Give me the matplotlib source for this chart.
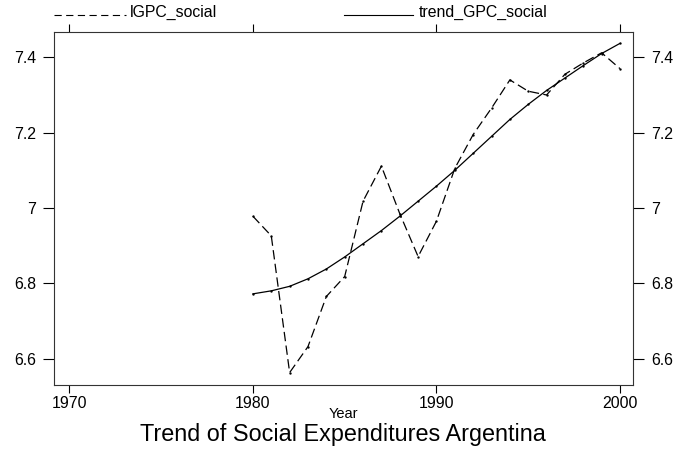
import matplotlib
matplotlib.use("Agg")
import matplotlib.pyplot as plt
from matplotlib.ticker import FixedLocator
from matplotlib.lines import Line2D

plt.rcParams['font.family'] = ['Liberation Sans', 'DejaVu Sans']

years = list(range(1980, 2001))
lgpc_social = [6.978, 6.926, 6.563, 6.632, 6.765, 6.818, 7.018, 7.111, 6.985, 6.871,
               6.965, 7.105, 7.195, 7.265, 7.340, 7.310, 7.300, 7.355, 7.385, 7.412, 7.370]
trend_gpc_social = [6.772, 6.780, 6.792, 6.812, 6.838, 6.870, 6.905, 6.940, 6.978, 7.018,
                    7.058, 7.100, 7.145, 7.190, 7.235, 7.275, 7.312, 7.345, 7.378, 7.410, 7.437]
x_ticks = [1970, 1980, 1990, 2000]
y_ticks = [6.6, 6.8, 7.0, 7.2, 7.4]
y_tick_labels = ['6.6', '6.8', '7', '7.2', '7.4']
series_names = ['lGPC_social', 'trend_GPC_social']
x_label = 'Year'
title = 'Trend of Social Expenditures Argentina'

W, H = 681, 451
fig = plt.figure(figsize=(W / 100, H / 100), dpi=100)
ax = fig.add_axes([54 / W, (H - 385) / H, (633 - 54) / W, (385 - 31.7) / H])

ax.plot(years, lgpc_social, color='black', lw=0.9, linestyle=(0, (7.5, 3.5)),
        marker='o', markersize=0.7)
ax.plot(years, trend_gpc_social, color='black', lw=0.9, marker='o', markersize=0.7)

ax.set_xlim(1969.16, 2000.71)
ax.set_ylim(6.530, 7.468)

ax.xaxis.set_major_locator(FixedLocator(x_ticks))
ax.set_xticklabels([str(t) for t in x_ticks])
ax.set_yticks(y_ticks)
ax.set_yticklabels(y_tick_labels)
ax.tick_params(axis='x', direction='out', length=6, width=0.8, labelsize=11.4,
               colors='black', pad=2, top=True, labeltop=False, bottom=True)
ax.tick_params(axis='y', direction='out', length=8, width=0.8, labelsize=11.4,
               colors='black', pad=5, left=True, right=True, labelright=True, labelleft=True)
for s in ax.spines.values():
    s.set_linewidth(0.8)
    s.set_color('#333333')

fig.text(0.5 * (54 + 633) / W, (H - 414) / H, x_label, ha='center', va='center',
         fontsize=10.5)

fig.text(342.5 / W, (H - 434) / H, title, ha='center', va='center', fontsize=16.8)

# legend keys above the plot
ly = 1 - 15 / H
fig.add_artist(Line2D([53.5 / W, 126 / W], [ly, ly], color='black', lw=0.8,
                      linestyle=(0, (6.5, 4)), transform=fig.transFigure))
fig.text(129.5 / W, 1 - 12 / H, series_names[0], ha='left', va='center', fontsize=11.4)
fig.add_artist(Line2D([343.5 / W, 413.5 / W], [ly, ly], color='black', lw=0.8,
                      transform=fig.transFigure))
fig.text(418.5 / W, 1 - 12 / H, series_names[1], ha='left', va='center', fontsize=11.4)

fig.savefig('out.png', dpi=100, facecolor='white')
